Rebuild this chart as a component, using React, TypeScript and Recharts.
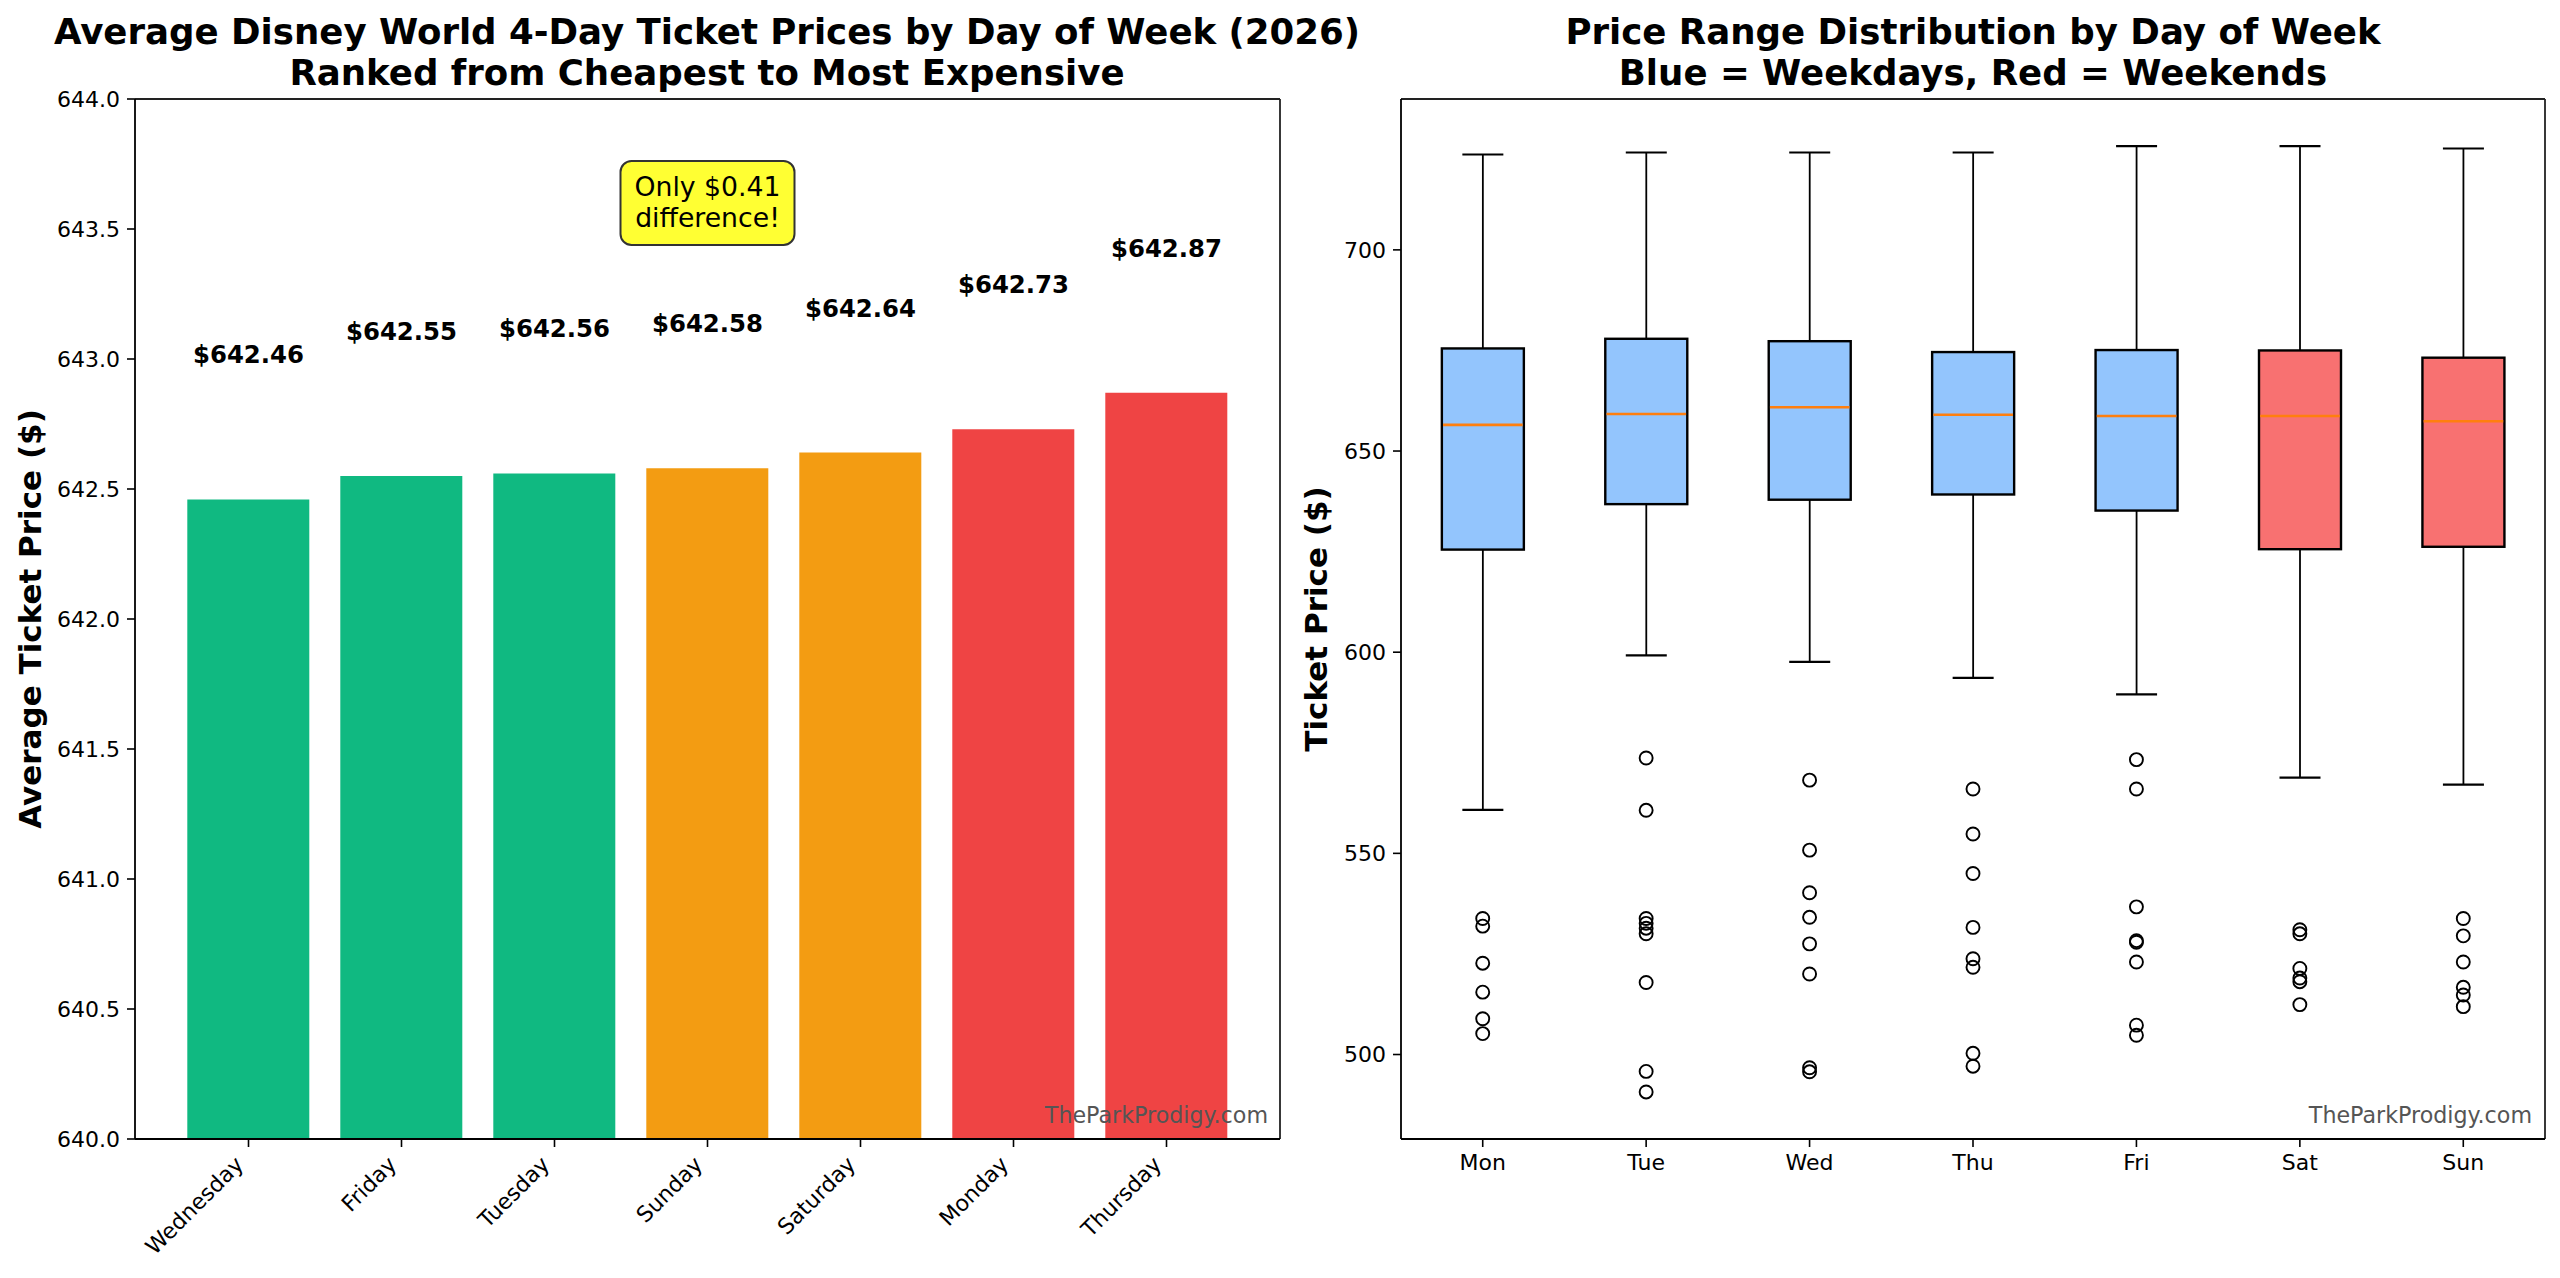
import {
    ComposedChart, Bar, Line, XAxis, YAxis, Cell, LabelList, ReferenceDot, CartesianGrid,
} from 'recharts';

// ---- left panel: average price per day, ranked ----
const rankedDays = ['Wednesday', 'Friday', 'Tuesday', 'Sunday', 'Saturday', 'Monday', 'Thursday'];
const avgPrices = [642.46, 642.55, 642.56, 642.58, 642.64, 642.73, 642.87];
const rankColors = ['#10b981', '#10b981', '#10b981', '#f39c12', '#f39c12', '#ef4444', '#ef4444'];
const leftTicks = [640.0, 640.5, 641.0, 641.5, 642.0, 642.5, 643.0, 643.5, 644.0];
const LABEL_GAP = 0.5;

// ---- right panel: box plot per day ----
const boxDays = ['Mon', 'Tue', 'Wed', 'Thu', 'Fri', 'Sat', 'Sun'];
const whiskerLow = [560.8, 599.2, 597.6, 593.6, 589.5, 568.8, 567.1];
const quart1 = [625.5, 636.8, 637.9, 639.2, 635.2, 625.6, 626.2];
const medians = [656.5, 659.2, 660.9, 659.0, 658.7, 658.7, 657.4];
const quart3 = [675.5, 677.9, 677.3, 674.6, 675.1, 675.0, 673.2];
const whiskerHigh = [723.7, 724.2, 724.2, 724.2, 725.8, 725.8, 725.2];
const outliers = [
    [533.8, 531.9, 522.7, 515.5, 508.9, 505.2],
    [573.7, 560.7, 533.8, 532.6, 531.4, 530.0, 517.9, 495.8, 490.7],
    [568.2, 550.8, 540.2, 534.1, 527.5, 520.0, 496.7, 495.7],
    [566.0, 554.8, 545.0, 531.6, 523.8, 521.7, 500.3, 497.1],
    [573.3, 566.0, 536.7, 528.3, 527.9, 523.0, 507.3, 504.8],
    [531.0, 530.0, 521.4, 519.0, 518.1, 512.4],
    [533.8, 529.5, 523.0, 516.7, 514.8, 511.9],
];
const weekend = [false, false, false, false, false, true, true];
const rightTicks = [500, 550, 600, 650, 700];

const FONT = '"DejaVu Sans", sans-serif';
const AXIS = '#000';

const leftData = rankedDays.map((day, i) => ({
    day, price: avgPrices[i], labelAt: avgPrices[i] + LABEL_GAP,
}));

const maxOutliers = Math.max(...outliers.map(o => o.length));
const outlierKeys = Array.from({ length: maxOutliers }, (_, k) => `o${k}`);

const rightData = boxDays.map((day, i) => {
    const row: Record<string, unknown> = {
        day,
        range: [whiskerLow[i], whiskerHigh[i]],
        lo: whiskerLow[i], q1: quart1[i], med: medians[i], q3: quart3[i], hi: whiskerHigh[i],
        weekend: weekend[i],
    };
    outliers[i].forEach((v, k) => { row[`o${k}`] = v; });
    return row;
});

// top + right spines, placed from the plot offset recharts hands the grid
const topLine = ({ offset }: { offset: { top: number } }) => [offset.top];
const rightLine = ({ offset }: { offset: { left: number; width: number } }) => [offset.left + offset.width];

function RotatedTick({ x, y, payload }: { x: number; y: number; payload: { value: string } }) {
    return (
        <g transform={`translate(${x - 3.7},${y + 11.8})`}>
            <text textAnchor="end" transform="rotate(-45)" fontSize={22} fill="#000">
                {payload.value}
            </text>
        </g>
    );
}

function PriceLabel(props: { x?: number; y?: number; value?: number }) {
    const { x = 0, y = 0, value = 0 } = props;
    return (
        <text x={x} y={y - 6} textAnchor="middle" fontSize={24.4} fontWeight="bold" fill="#000">
            ${Number(value).toFixed(2)}
        </text>
    );
}

function NoteBox({ cx = 0, cy = 0 }: { cx?: number; cy?: number }) {
    return (
        <g>
            <rect x={cx - 87} y={cy - 42} width={174} height={84} rx={11} ry={11}
                fill="#ffff33" stroke="#333" strokeWidth={2} />
            <text x={cx} y={cy - 7} textAnchor="middle" fontSize={26.7} fill="#000">Only $0.41</text>
            <text x={cx} y={cy + 24} textAnchor="middle" fontSize={26.7} fill="#000">difference!</text>
        </g>
    );
}

function BoxShape(props: {
    x?: number; y?: number; width?: number; height?: number;
    payload?: { lo: number; q1: number; med: number; q3: number; hi: number; weekend: boolean };
}) {
    const { x = 0, y = 0, width = 0, height = 0, payload } = props;
    if (!payload) return null;
    const top = Math.min(y, y + height);
    const h = Math.abs(height);
    const { lo, q1, med, q3, hi } = payload;
    const py = (v: number) => top + ((hi - v) / (hi - lo)) * h;
    const cx = x + width / 2;
    const cap = width / 4;
    const fill = payload.weekend ? '#f87171' : '#93c5fd';
    return (
        <g>
            <line x1={cx} x2={cx} y1={py(hi)} y2={py(q3)} stroke="#000" strokeWidth={1.8} />
            <line x1={cx} x2={cx} y1={py(q1)} y2={py(lo)} stroke="#000" strokeWidth={1.8} />
            <line x1={cx - cap} x2={cx + cap} y1={py(hi)} y2={py(hi)} stroke="#000" strokeWidth={2.2} />
            <line x1={cx - cap} x2={cx + cap} y1={py(lo)} y2={py(lo)} stroke="#000" strokeWidth={2.2} />
            <rect x={x} y={py(q3)} width={width} height={py(q1) - py(q3)}
                fill={fill} stroke="#000" strokeWidth={2.4} />
            <line x1={x + 1.2} x2={x + width - 1.2} y1={py(med)} y2={py(med)} stroke="#ff7f0e" strokeWidth={2.6} />
        </g>
    );
}

const titleStyle = (center: number): React.CSSProperties => ({
    position: 'absolute', left: center - 750, width: 1500, top: 10.5,
    textAlign: 'center', fontSize: 35.6, fontWeight: 'bold', lineHeight: '41px',
});

const yLabelStyle = (cx: number): React.CSSProperties => ({
    position: 'absolute', left: cx, top: 619, transform: 'translate(-50%,-50%) rotate(-90deg)',
    fontSize: 31, fontWeight: 'bold', whiteSpace: 'nowrap', lineHeight: '36px',
});

const markStyle = (right: number): React.CSSProperties => ({
    position: 'absolute', right: 2560 - right, top: 1104, fontSize: 22.2, lineHeight: '22px',
    color: '#555', whiteSpace: 'nowrap',
});

export default function App() {
    return (
        <div style={{
            position: 'absolute', left: 0, top: 0, width: 2560, height: 1278,
            background: '#fff', fontFamily: FONT, color: '#000', overflow: 'hidden',
        }}>
            <div style={{ position: 'absolute', left: 0, top: 0 }}>
                <ComposedChart width={1330} height={1278} data={leftData}
                    margin={{ top: 99, right: 50, bottom: 19, left: 55 }} barCategoryGap="10%">
                    <CartesianGrid stroke="#222" strokeWidth={1.8}
                        horizontalCoordinatesGenerator={topLine} verticalCoordinatesGenerator={rightLine} />
                    <XAxis dataKey="day" height={120} padding={{ left: 37, right: 37 }}
                        tick={RotatedTick} tickSize={8} tickMargin={7} interval={0}
                        axisLine={{ stroke: AXIS, strokeWidth: 1.8 }} tickLine={{ stroke: AXIS, strokeWidth: 1.6 }} />
                    <YAxis domain={[640, 644]} ticks={leftTicks} width={80} allowDataOverflow
                        tickFormatter={(v: number) => v.toFixed(1)} tickSize={8} tickMargin={7}
                        tick={{ fontSize: 22, fill: '#000' }}
                        axisLine={{ stroke: AXIS, strokeWidth: 1.8 }} tickLine={{ stroke: AXIS, strokeWidth: 1.6 }} />
                    <Bar dataKey="price" isAnimationActive={false}>
                        {leftData.map((d, i) => <Cell key={d.day} fill={rankColors[i]} />)}
                    </Bar>
                    <Line dataKey="labelAt" stroke="none" dot={false} activeDot={false} isAnimationActive={false}>
                        <LabelList dataKey="price" content={PriceLabel} />
                    </Line>
                    <ReferenceDot x="Sunday" y={643.6} r={0} shape={NoteBox} />
                </ComposedChart>
            </div>

            <div style={{ position: 'absolute', left: 1330, top: 0 }}>
                <ComposedChart width={1230} height={1278} data={rightData}
                    margin={{ top: 99, right: 15, bottom: 19, left: 11 }} barCategoryGap="25%">
                    <CartesianGrid stroke="#222" strokeWidth={1.8}
                        horizontalCoordinatesGenerator={topLine} verticalCoordinatesGenerator={rightLine} />
                    <XAxis dataKey="day" height={120} interval={0} tickSize={8} tickMargin={7}
                        tick={{ fontSize: 22, fill: '#000' }}
                        axisLine={{ stroke: AXIS, strokeWidth: 1.8 }} tickLine={{ stroke: AXIS, strokeWidth: 1.6 }} />
                    <YAxis domain={[479, 737.5]} ticks={rightTicks} width={60} allowDataOverflow
                        tickSize={8} tickMargin={7} tick={{ fontSize: 22, fill: '#000' }}
                        axisLine={{ stroke: AXIS, strokeWidth: 1.8 }} tickLine={{ stroke: AXIS, strokeWidth: 1.6 }} />
                    <Bar dataKey="range" shape={BoxShape} isAnimationActive={false} />
                    {outlierKeys.map(k => (
                        <Line key={k} dataKey={k} stroke="none" activeDot={false} isAnimationActive={false}
                            dot={{ r: 6.5, fill: 'none', stroke: '#000', strokeWidth: 1.9 }} />
                    ))}
                </ComposedChart>
            </div>

            <div style={titleStyle(707)}>
                Average Disney World 4-Day Ticket Prices by Day of Week (2026)<br />
                Ranked from Cheapest to Most Expensive
            </div>
            <div style={titleStyle(1973)}>
                Price Range Distribution by Day of Week<br />
                Blue = Weekdays, Red = Weekends
            </div>
            <div style={yLabelStyle(30)}>Average Ticket Price ($)</div>
            <div style={yLabelStyle(1316)}>Ticket Price ($)</div>
            <div style={markStyle(1268)}>TheParkProdigy.com</div>
            <div style={markStyle(2532)}>TheParkProdigy.com</div>
        </div>
    );
}
